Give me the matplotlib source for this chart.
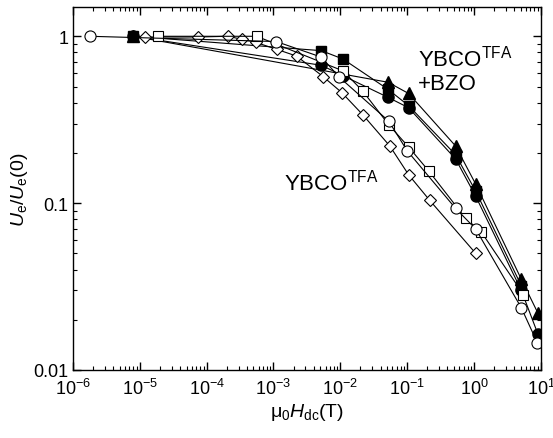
import matplotlib
matplotlib.use("Agg")
import matplotlib.pyplot as plt
from matplotlib.ticker import LogLocator, FixedLocator, FixedFormatter, NullFormatter

plt.rcParams['font.family'] = ['Liberation Sans', 'DejaVu Sans']
plt.rcParams['mathtext.fontset'] = 'custom'
plt.rcParams['mathtext.rm'] = 'Liberation Sans'
plt.rcParams['mathtext.it'] = 'Liberation Sans:italic'
plt.rcParams['mathtext.default'] = 'regular'

# YBCO TFA (open symbols)
circ_open_x = [1.8e-6, 1.1e-3, 5.2e-3, 9.6e-3, 0.053, 0.10, 0.53, 1.06, 5.1, 8.9]
circ_open_y = [1.0, 0.93, 0.75, 0.57, 0.31, 0.206, 0.093, 0.070, 0.0236, 0.0145]

sq_open_x = [1.9e-5, 5.6e-4, 0.011, 0.0216, 0.053, 0.105, 0.21, 0.75, 1.29, 5.5]
sq_open_y = [1.0, 1.0, 0.62, 0.47, 0.295, 0.217, 0.156, 0.081, 0.067, 0.0283]

dia_x = [1.19e-5, 7.4e-5, 2.07e-4, 3.36e-4, 5.4e-4, 1.12e-3, 2.23e-3, 5.5e-3,
         1.05e-2, 2.16e-2, 5.5e-2, 0.105, 0.217, 1.06]
dia_y = [0.99, 0.99, 1.0, 0.96, 0.92, 0.835, 0.76, 0.574, 0.46, 0.339, 0.22,
         0.148, 0.104, 0.050]

# YBCO TFA + BZO (filled symbols)
tri_x = [8e-6, 0.052, 0.105, 0.53, 1.06, 5.1, 9.0]
tri_y = [1.0, 0.53, 0.454, 0.22, 0.13, 0.035, 0.022]

sq_fill_x = [8e-6, 5.2e-3, 1.1e-2, 0.052, 0.105, 0.53, 1.06, 5.1]
sq_fill_y = [1.0, 0.82, 0.73, 0.48, 0.384, 0.195, 0.118, 0.032]

circ_fill_x = [8e-6, 5.2e-3, 1.1e-2, 0.052, 0.105, 0.53, 1.06, 5.1, 9.0]
circ_fill_y = [1.0, 0.67, 0.58, 0.43, 0.373, 0.184, 0.110, 0.030, 0.0165]

fig = plt.figure(figsize=(5.53, 4.39), dpi=100)
ax = fig.add_axes([0.132, 0.155, 0.846, 0.827])

lw = 0.8
ms = 8
ax.plot(circ_fill_x, circ_fill_y, '-o', color='black', lw=lw, ms=ms, mfc='black', mec='black')
ax.plot(sq_fill_x, sq_fill_y, '-s', color='black', lw=lw, ms=ms - 1, mfc='black', mec='black')
ax.plot(tri_x, tri_y, '-^', color='black', lw=lw, ms=ms + 1, mfc='black', mec='black')
ax.plot(dia_x, dia_y, '-D', color='black', lw=lw, ms=ms - 1.5, mfc='white', mec='black', mew=0.8)
ax.plot(sq_open_x, sq_open_y, '-s', color='black', lw=lw, ms=ms - 1, mfc='white', mec='black', mew=0.8)
ax.plot(circ_open_x, circ_open_y, '-o', color='black', lw=lw, ms=ms, mfc='white', mec='black', mew=0.8)

ax.set_xscale('log')
ax.set_yscale('log')
ax.set_xlim(1e-6, 10)
ax.set_ylim(0.01, 1.5)

ax.xaxis.set_major_locator(LogLocator(base=10, numticks=20))
ax.xaxis.set_minor_locator(LogLocator(base=10, subs=range(2, 10), numticks=20))
ax.xaxis.set_minor_formatter(NullFormatter())
ax.yaxis.set_major_locator(FixedLocator([0.01, 0.1, 1]))
ax.yaxis.set_major_formatter(FixedFormatter(['0.01', '0.1', '1']))
ax.yaxis.set_minor_formatter(NullFormatter())

ax.tick_params(which='both', direction='in', top=True, right=True, labelsize=13)
ax.tick_params(which='major', length=6, width=1)
ax.tick_params(which='minor', length=3, width=0.8)
ax.tick_params(axis='x', pad=6)
for s in ax.spines.values():
    s.set_linewidth(1)

ax.set_xlabel(r'$\mathrm{\mu}_0$$\mathit{H}_{\mathrm{dc}}$(T)', fontsize=14, labelpad=2)
ax.set_ylabel(r'$\mathit{U}_{\mathrm{e}}/\mathit{U}_{\mathrm{e}}$(0)', fontsize=14, labelpad=2)

ax.text(0.45, 0.52, r'YBCO$^{\mathrm{TFA}}$', transform=ax.transAxes, fontsize=16, va='center')
ax.text(0.737, 0.86, r'YBCO$^{\mathrm{TFA}}$', transform=ax.transAxes, fontsize=16, va='center')
ax.text(0.737, 0.79, '+BZO', transform=ax.transAxes, fontsize=16, va='center')

fig.savefig('out.png', dpi=100)
